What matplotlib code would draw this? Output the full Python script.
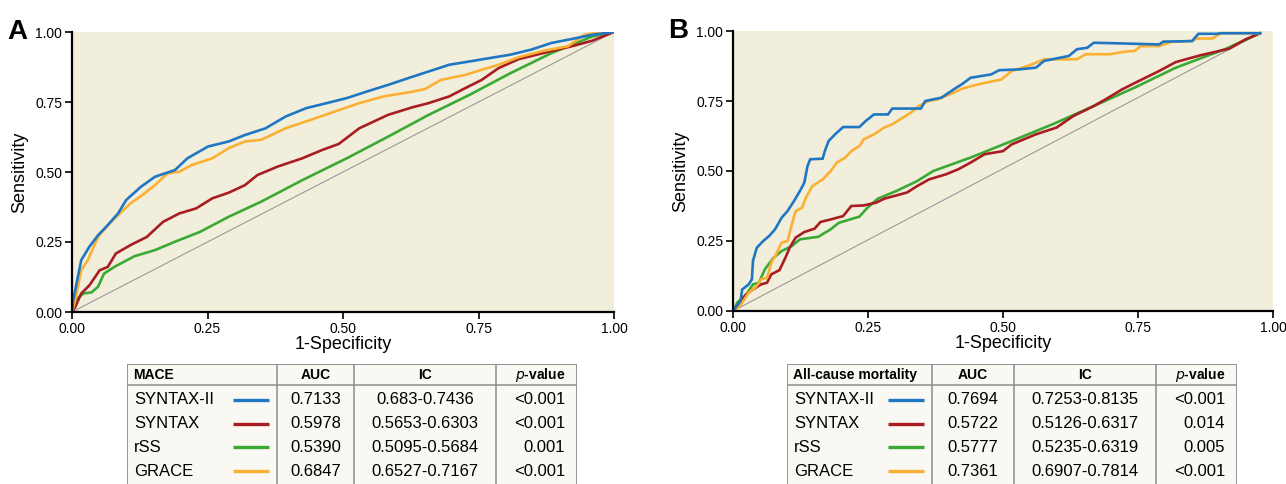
import matplotlib
matplotlib.use("Agg")
import matplotlib.pyplot as plt

plt.rcParams["font.family"] = ["Liberation Sans", "DejaVu Sans"]

# ---------- colours ----------
COLORS = {
    "SYNTAX-II": "#1f77c4",
    "SYNTAX": "#a81d22",
    "rSS": "#3aaa35",
    "GRACE": "#fbb034",
}
BG = "#f2eedc"
TABLE_BG = "#f9f8f3"
GRID = "#8c8c8c"

scores = ["SYNTAX-II", "SYNTAX", "rSS", "GRACE"]

# ---------- panel A (MACE) ROC points ----------
a_syntax2_x = [0, 0.002, 0.017, 0.032, 0.048, 0.063, 0.085, 0.10, 0.127, 0.153, 0.19, 0.213, 0.251,
               0.289, 0.319, 0.357, 0.394, 0.432, 0.47, 0.507, 0.545, 0.583, 0.62, 0.658, 0.696,
               0.734, 0.771, 0.809, 0.847, 0.885, 0.922, 0.96, 1.0]
a_syntax2_y = [0, 0.04, 0.185, 0.233, 0.274, 0.304, 0.352, 0.40, 0.447, 0.483, 0.507, 0.549, 0.591,
               0.609, 0.632, 0.656, 0.698, 0.728, 0.746, 0.764, 0.788, 0.811, 0.835, 0.859, 0.883,
               0.895, 0.907, 0.919, 0.937, 0.961, 0.975, 0.99, 1.0]

a_syntax_x = [0, 0.006, 0.017, 0.032, 0.051, 0.066, 0.081, 0.108, 0.138, 0.168, 0.198, 0.229, 0.259,
              0.289, 0.319, 0.342, 0.379, 0.425, 0.462, 0.492, 0.53, 0.583, 0.628, 0.658, 0.696,
              0.726, 0.756, 0.787, 0.824, 0.87, 0.922, 0.96, 1.0]
a_syntax_y = [0, 0.018, 0.066, 0.095, 0.149, 0.161, 0.209, 0.239, 0.268, 0.322, 0.352, 0.37, 0.406,
              0.426, 0.453, 0.489, 0.519, 0.549, 0.579, 0.60, 0.656, 0.704, 0.731, 0.746, 0.77,
              0.80, 0.829, 0.871, 0.903, 0.925, 0.949, 0.969, 1.0]

a_rss_x = [0, 0.01, 0.021, 0.036, 0.048, 0.059, 0.078, 0.115, 0.153, 0.19, 0.236, 0.289, 0.349,
           0.425, 0.507, 0.583, 0.658, 0.734, 0.809, 0.885, 0.96, 1.0]
a_rss_y = [0, 0.048, 0.066, 0.07, 0.09, 0.137, 0.161, 0.199, 0.221, 0.251, 0.286, 0.34, 0.394,
           0.471, 0.549, 0.626, 0.704, 0.776, 0.853, 0.925, 0.984, 1.0]

a_grace_x = [0, 0.006, 0.017, 0.029, 0.048, 0.066, 0.085, 0.108, 0.13, 0.153, 0.176, 0.198, 0.221,
             0.259, 0.289, 0.319, 0.349, 0.394, 0.44, 0.485, 0.53, 0.575, 0.62, 0.651, 0.681,
             0.726, 0.756, 0.787, 0.824, 0.87, 0.915, 0.945, 0.975, 1.0]
a_grace_y = [0, 0.042, 0.149, 0.185, 0.268, 0.31, 0.346, 0.388, 0.418, 0.453, 0.495, 0.501, 0.525,
             0.549, 0.585, 0.609, 0.615, 0.656, 0.686, 0.716, 0.746, 0.77, 0.784, 0.796, 0.829,
             0.847, 0.865, 0.883, 0.91, 0.933, 0.949, 0.99, 0.999, 1.0]

# ---------- panel B (all-cause mortality) ROC points ----------
b_syntax2_x = [0, 0.014, 0.017, 0.029, 0.035, 0.037, 0.044, 0.056, 0.067, 0.078, 0.09, 0.101, 0.113,
               0.124, 0.132, 0.138, 0.143, 0.166, 0.17, 0.177, 0.189, 0.204, 0.234, 0.246, 0.261,
               0.287, 0.295, 0.348, 0.356, 0.386, 0.409, 0.424, 0.44, 0.478, 0.493, 0.531, 0.561,
               0.576, 0.622, 0.637, 0.656, 0.668, 0.713, 0.789, 0.797, 0.85, 0.862, 0.896, 0.903,
               0.976]
b_syntax2_y = [0, 0.036, 0.077, 0.095, 0.113, 0.179, 0.226, 0.25, 0.268, 0.292, 0.333, 0.357, 0.393,
               0.429, 0.458, 0.518, 0.542, 0.544, 0.571, 0.607, 0.631, 0.657, 0.657, 0.679, 0.702,
               0.702, 0.723, 0.723, 0.75, 0.762, 0.792, 0.81, 0.833, 0.845, 0.86, 0.863, 0.869,
               0.893, 0.911, 0.935, 0.94, 0.958, 0.956, 0.952, 0.962, 0.964, 0.99, 0.99, 0.992,
               0.992]

b_syntax_x = [0, 0.014, 0.025, 0.037, 0.052, 0.063, 0.071, 0.086, 0.097, 0.105, 0.116, 0.132, 0.151,
              0.162, 0.181, 0.204, 0.219, 0.242, 0.265, 0.28, 0.299, 0.322, 0.341, 0.363, 0.394,
              0.417, 0.44, 0.466, 0.50, 0.516, 0.561, 0.599, 0.63, 0.668, 0.69, 0.721, 0.751,
              0.789, 0.82, 0.865, 0.919, 0.949, 0.976]
b_syntax_y = [0, 0.036, 0.06, 0.077, 0.095, 0.101, 0.131, 0.146, 0.19, 0.226, 0.262, 0.282, 0.294,
              0.318, 0.327, 0.339, 0.375, 0.377, 0.387, 0.401, 0.411, 0.423, 0.446, 0.47, 0.488,
              0.506, 0.53, 0.56, 0.571, 0.595, 0.631, 0.655, 0.696, 0.732, 0.756, 0.792, 0.821,
              0.857, 0.889, 0.913, 0.937, 0.97, 0.992]

b_rss_x = [0, 0.008, 0.025, 0.037, 0.048, 0.059, 0.075, 0.09, 0.109, 0.124, 0.158, 0.181, 0.196,
           0.234, 0.249, 0.268, 0.303, 0.341, 0.371, 0.44, 0.516, 0.592, 0.668, 0.744, 0.82,
           0.911, 0.976]
b_rss_y = [0, 0.03, 0.06, 0.095, 0.101, 0.149, 0.19, 0.214, 0.232, 0.256, 0.265, 0.292, 0.315,
           0.337, 0.369, 0.401, 0.429, 0.464, 0.50, 0.548, 0.607, 0.667, 0.732, 0.798, 0.869,
           0.935, 0.992]

b_grace_x = [0, 0.01, 0.017, 0.029, 0.044, 0.052, 0.063, 0.071, 0.078, 0.09, 0.101, 0.109, 0.116,
             0.128, 0.135, 0.147, 0.166, 0.181, 0.192, 0.208, 0.219, 0.234, 0.242, 0.261, 0.28,
             0.295, 0.31, 0.329, 0.344, 0.363, 0.379, 0.402, 0.424, 0.455, 0.497, 0.516, 0.546,
             0.576, 0.637, 0.653, 0.698, 0.725, 0.744, 0.755, 0.789, 0.812, 0.85, 0.858, 0.888,
             0.903, 0.976]
b_grace_y = [0, 0.012, 0.03, 0.065, 0.089, 0.113, 0.119, 0.173, 0.196, 0.244, 0.25, 0.31, 0.357,
             0.369, 0.405, 0.446, 0.47, 0.50, 0.53, 0.548, 0.571, 0.589, 0.613, 0.631, 0.655,
             0.667, 0.685, 0.708, 0.732, 0.75, 0.756, 0.774, 0.794, 0.81, 0.827, 0.857, 0.875,
             0.899, 0.899, 0.917, 0.917, 0.926, 0.929, 0.946, 0.946, 0.961, 0.964, 0.973, 0.973,
             0.992, 0.992]

a_diag_x, a_diag_y = [0, 1.0], [0, 1.0]
b_diag_x, b_diag_y = [0, 0.976], [0, 0.992]

ticks = [0.0, 0.25, 0.5, 0.75, 1.0]
tick_labels = ["0.00", "0.25", "0.50", "0.75", "1.00"]

# ---------- table contents ----------
a_title = "MACE"
a_auc = ["0.7133", "0.5978", "0.5390", "0.6847"]
a_ic = ["0.683-0.7436", "0.5653-0.6303", "0.5095-0.5684", "0.6527-0.7167"]
a_p = ["<0.001", "<0.001", "0.001", "<0.001"]

b_title = "All-cause mortality"
b_auc = ["0.7694", "0.5722", "0.5777", "0.7361"]
b_ic = ["0.7253-0.8135", "0.5126-0.6317", "0.5235-0.6319", "0.6907-0.7814"]
b_p = ["<0.001", "0.014", "0.005", "<0.001"]

W, H = 1286, 484
fig = plt.figure(figsize=(W / 100, H / 100), dpi=100)


def px_axes(x0, y0, x1, y1):
    return fig.add_axes([x0 / W, 1 - y1 / H, (x1 - x0) / W, (y1 - y0) / H])


def roc_panel(ax, curves, diag, letter):
    ax.set_facecolor(BG)
    ax.plot(diag[0], diag[1], color="#9a9a9a", lw=0.8, zorder=1)
    # draw order: green, red, orange, blue on top
    for name in ["rSS", "SYNTAX", "GRACE", "SYNTAX-II"]:
        xs, ys = curves[name]
        ax.plot(xs, ys, color=COLORS[name], lw=1.9, solid_joinstyle="miter", zorder=2)
    ax.set_xlim(0, 1)
    ax.set_ylim(0, 1)
    for s in ["top", "right"]:
        ax.spines[s].set_visible(False)
    for s in ["left", "bottom"]:
        ax.spines[s].set_linewidth(1.6)
        ax.spines[s].set_color("black")
    ax.set_xticks(ticks)
    ax.set_yticks(ticks)
    ax.set_xticklabels(tick_labels)
    ax.set_yticklabels(tick_labels)
    ax.tick_params(direction="out", length=5, width=1.2, labelsize=10, pad=2)
    ax.set_xlabel("1-Specificity", fontsize=13, labelpad=0)
    ax.set_ylabel("Sensitivity", fontsize=13, labelpad=5)
    ax.text(-0.12, 1.0, letter, transform=ax.transAxes, fontsize=20, fontweight="bold",
            ha="left", va="center")


def table(x0, x1, cols, title, auc, ic, pv):
    top = 364
    ax = px_axes(x0, top, x1, 492)
    w = x1 - x0
    ax.set_xlim(0, w)
    ax.set_ylim(492 - top, 0)
    ax.axis("off")
    ax.add_patch(plt.Rectangle((0, 0), w, 128, facecolor=TABLE_BG, edgecolor=GRID, lw=1.3))
    ax.plot([0, w], [21, 21], color=GRID, lw=1.1)
    for c in cols:
        ax.plot([c, c], [0, 128], color=GRID, lw=1.1)
    c1, c2, c3 = cols
    head_y = 11
    fs = 12
    hfs = 10
    ax.text(6, head_y, title, fontsize=hfs, fontweight="bold", ha="left", va="center")
    ax.text((c1 + c2) / 2, head_y, "AUC", fontsize=hfs, fontweight="bold", ha="center", va="center")
    ax.text((c2 + c3) / 2, head_y, "IC", fontsize=hfs, fontweight="bold", ha="center", va="center")
    ax.text(w - 12, head_y, r"$\mathbf{\it{p}}$" + "-value", fontsize=hfs, fontweight="bold",
            ha="right", va="center")
    for i, name in enumerate(scores):
        y = 36 + i * 23.7
        ax.text(7, y, name, fontsize=fs, ha="left", va="center")
        ax.plot([c1 - 44, c1 - 8], [y, y], color=COLORS[name], lw=2.4, solid_capstyle="butt")
        ax.text((c1 + c2) / 2, y, auc[i], fontsize=fs, ha="center", va="center")
        ax.text((c2 + c3) / 2, y, ic[i], fontsize=fs, ha="center", va="center")
        ax.text(w - 12, y, pv[i], fontsize=fs, ha="right", va="center")


ax_a = px_axes(72, 32, 614, 312)
roc_panel(ax_a,
          {"SYNTAX-II": (a_syntax2_x, a_syntax2_y), "SYNTAX": (a_syntax_x, a_syntax_y),
           "rSS": (a_rss_x, a_rss_y), "GRACE": (a_grace_x, a_grace_y)},
          (a_diag_x, a_diag_y), "A")

ax_b = px_axes(733, 31, 1273, 311)
roc_panel(ax_b,
          {"SYNTAX-II": (b_syntax2_x, b_syntax2_y), "SYNTAX": (b_syntax_x, b_syntax_y),
           "rSS": (b_rss_x, b_rss_y), "GRACE": (b_grace_x, b_grace_y)},
          (b_diag_x, b_diag_y), "B")

table(127, 577, [150, 227, 369], a_title, a_auc, a_ic, a_p)
table(787, 1237, [145, 227, 369], b_title, b_auc, b_ic, b_p)

fig.savefig("out.png", dpi=100)
